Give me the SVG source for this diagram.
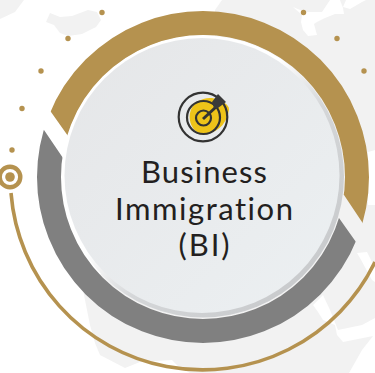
<svg xmlns="http://www.w3.org/2000/svg" width="375" height="373" viewBox="0 0 375 373">
<style>
.map{fill:#f2f2f2}
.cut{fill:#fff}
.dot{fill:#b5924f}
.lbl{font-family:"Lato","Liberation Sans",sans-serif;font-size:31px;fill:#231f20;text-anchor:middle;font-variant-ligatures:none}
.ic{fill:none;stroke:#333;stroke-width:2.2}
</style>
<defs>
<linearGradient id="dg" x1="0" y1="0" x2="1" y2="1"><stop offset="0" stop-color="#e5e6e8"/><stop offset="1" stop-color="#ecf0f2"/></linearGradient>
<linearGradient id="rim" x1="0.15" y1="0.15" x2="0.85" y2="0.85"><stop offset="0.4" stop-color="#fff"/><stop offset="0.62" stop-color="#d5d7d9"/><stop offset="1" stop-color="#c9cbcd"/></linearGradient>
<clipPath id="goldClip"><path d="M68 136L51 112L30 82V-10H400V252H382L344 195L203 177Z"/></clipPath>
<clipPath id="grayClip"><path d="M63 158L44 130L24 100H-10V400H396V298L356 242L339 218L203 177Z"/></clipPath>
</defs>
<rect width="375" height="373" fill="#fff"/>
<g id="map">
<path class="map" d="M0 0H24L15 12L0 19Z"/>
<path class="map" d="M46 22L50 13L60 17L72 16L88 10L97 12L101 20L96 27L82 34L68 36L60 33L54 25Z"/>
<path class="map" d="M215 10L222 0H375V373H190L178 366L172 360L140 362L125 368L100 355L95 343L90 325L85 300L83 290L215 170Z"/>
<path class="cut" d="M293 7L305 12L322 12L330 0H340L343 8L344 14L335 14L325 18L317 22L314 24L317 35L308 36L303 30L301 22L302 15Z"/>
<path class="cut" d="M346 0L343 7L350 9L362 2L366 0Z"/>
<path class="cut" d="M368 152L375 150V205L368 205Z"/>
<path class="cut" d="M357 253L367 252L375 268V282L372 280L360 258Z"/>
<path class="cut" d="M313 305L323 295L330 310L338 330L362 325L375 318V373H349L362 350L373 336L343 342L337 335L335 325L323 320L318 312Z"/>
</g>
<g id="outer-arc"><path d="M11 193A192 192 0 0 0 375 262" fill="none" stroke="#b5924f" stroke-width="3.600"/></g>
<g id="gold-ring"><circle cx="203" cy="177" r="154" fill="none" stroke="#b5924f" stroke-width="24" clip-path="url(#goldClip)"/></g>
<g id="gray-ring"><circle cx="203" cy="177" r="154" fill="none" stroke="#808080" stroke-width="24" clip-path="url(#grayClip)"/></g>
<g id="disc">
<circle cx="203" cy="176.500" r="141" fill="url(#rim)"/>
<circle cx="202" cy="175.500" r="137.500" fill="url(#dg)"/>
</g>
<g id="target">
<path d="M190 113C192 102 203 97 212 98C220 100 230 104 229 110C227 122 220 131 207 134C195 136 188 124 190 113Z" fill="#eec319"/>
<circle class="ic" cx="203" cy="117" r="24.300"/>
<circle class="ic" cx="203.500" cy="117.500" r="16.500"/>
<circle class="ic" cx="203.500" cy="118" r="7.500"/>
<path d="M203 119L216 107" fill="none" stroke="#333" stroke-width="3"/>
<path d="M218 94L226 102L218 108L214 108L212 102Z" fill="#3a3a3a"/>
</g>
<g id="label">
<text class="lbl" x="204" y="183" textLength="126">Business</text>
<text class="lbl" x="204" y="220" textLength="178">Immigration</text>
<text class="lbl" x="204" y="256" textLength="51">(BI)</text>
</g>
<g id="ring-node"><circle cx="10" cy="177" r="10.300" fill="none" stroke="#b5924f" stroke-width="4.400"/><circle class="dot" cx="10" cy="177" r="4.800"/></g>
<g id="dots">
<circle class="dot" cx="102" cy="12.500" r="2.700"/><circle class="dot" cx="68" cy="38.500" r="2.700"/><circle class="dot" cx="41" cy="71" r="2.700"/><circle class="dot" cx="22" cy="108.500" r="2.700"/><circle class="dot" cx="12" cy="150" r="2.700"/>
<circle class="dot" cx="303.500" cy="12.500" r="2.700"/><circle class="dot" cx="337" cy="38.500" r="2.700"/><circle class="dot" cx="364" cy="71" r="2.700"/>
</g>
</svg>
